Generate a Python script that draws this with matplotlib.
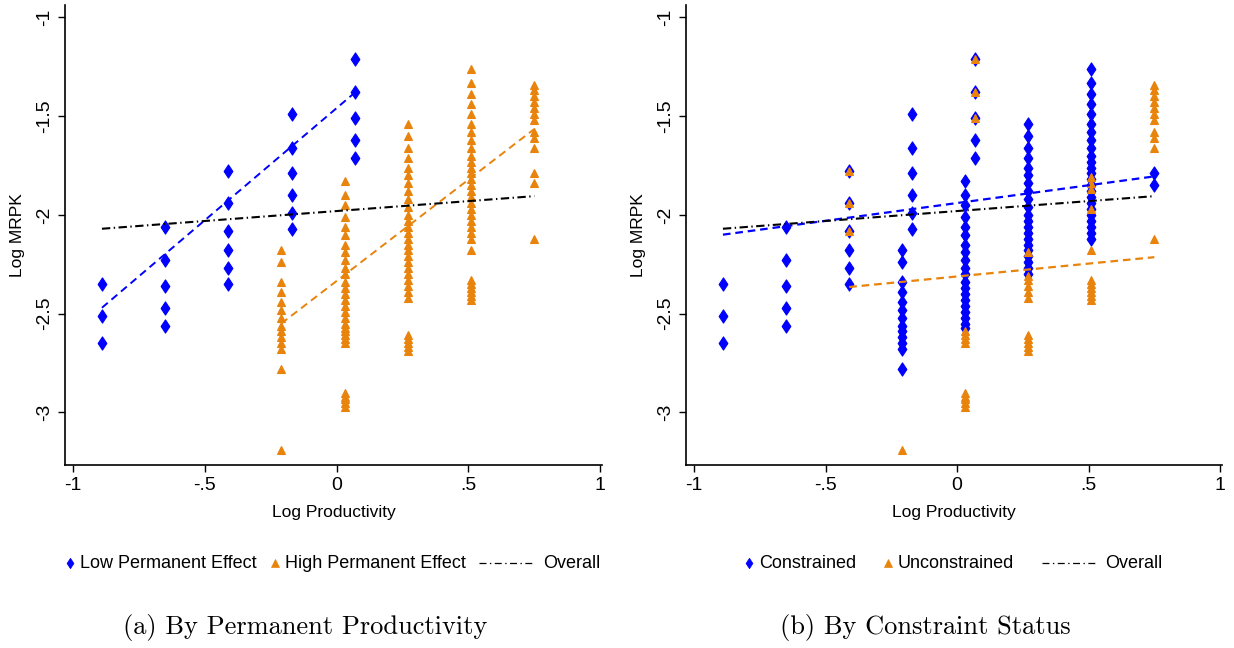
import numpy as np
import matplotlib
matplotlib.use('Agg')
import matplotlib.pyplot as plt
from matplotlib.lines import Line2D
from matplotlib.path import Path
from matplotlib.offsetbox import DrawingArea, TextArea, HPacker, AnchoredOffsetbox

plt.rcParams['font.family'] = ['Liberation Sans Narrow', 'Liberation Sans', 'DejaVu Sans']
plt.rcParams['lines.scale_dashes'] = False

BLUE = '#0000FF'
ORANGE = '#E8830C'

# ---- panel (a): by permanent productivity ----
low_x = [-0.89, -0.65, -0.41, -0.17, 0.07]
low_y = [
    [-2.35, -2.51, -2.65],
    [-2.06, -2.23, -2.36, -2.47, -2.56],
    [-1.78, -1.94, -2.08, -2.18, -2.27, -2.35],
    [-1.49, -1.66, -1.79, -1.90, -1.99, -2.07],
    [-1.21, -1.38, -1.51, -1.62, -1.71],
]
high_x = [-0.21, 0.03, 0.27, 0.51, 0.75]
high_y = [
    [-2.18, -2.24, -2.34, -2.39, -2.44, -2.48, -2.52, -2.56, -2.59, -2.62,
     -2.65, -2.68, -2.78, -3.19],
    [-1.83, -1.90, -1.95, -2.01, -2.06, -2.10, -2.15, -2.19, -2.23, -2.27,
     -2.30, -2.34, -2.37, -2.40, -2.43, -2.46, -2.49, -2.52, -2.55, -2.57,
     -2.59, -2.61, -2.63, -2.65, -2.90, -2.92, -2.93, -2.95, -2.97],
    [-1.54, -1.60, -1.66, -1.71, -1.76, -1.80, -1.84, -1.88, -1.92, -1.96,
     -2.00, -2.03, -2.06, -2.09, -2.12, -2.15, -2.18, -2.21, -2.24, -2.27,
     -2.30, -2.33, -2.36, -2.39, -2.42, -2.61, -2.63, -2.65, -2.67, -2.69],
    [-1.26, -1.33, -1.39, -1.44, -1.49, -1.54, -1.58, -1.62, -1.66, -1.70,
     -1.73, -1.76, -1.79, -1.82, -1.85, -1.88, -1.91, -1.94, -1.97, -2.00,
     -2.03, -2.06, -2.09, -2.12, -2.18, -2.33, -2.35, -2.37, -2.39, -2.41, -2.43],
    [-1.34, -1.37, -1.40, -1.43, -1.46, -1.49, -1.52, -1.58, -1.61, -1.66,
     -1.79, -1.84, -2.12],
]

# ---- panel (b): by constraint status ----
con_x = [-0.89, -0.65, -0.41, -0.21, -0.17, 0.03, 0.07, 0.27, 0.51, 0.75]
con_y = [
    [-2.35, -2.51, -2.65],
    [-2.06, -2.23, -2.36, -2.47, -2.56],
    [-1.78, -1.94, -2.08, -2.18, -2.27, -2.35],
    [-2.18, -2.24, -2.34, -2.39, -2.44, -2.48, -2.52, -2.56, -2.59, -2.62,
     -2.65, -2.68, -2.78],
    [-1.49, -1.66, -1.79, -1.90, -1.99, -2.07],
    [-1.83, -1.90, -1.95, -2.01, -2.06, -2.10, -2.15, -2.19, -2.23, -2.27,
     -2.30, -2.34, -2.37, -2.40, -2.43, -2.46, -2.49, -2.52, -2.55, -2.57],
    [-1.21, -1.38, -1.51, -1.62, -1.71],
    [-1.54, -1.60, -1.66, -1.71, -1.76, -1.80, -1.84, -1.88, -1.92, -1.96,
     -2.00, -2.03, -2.06, -2.09, -2.12, -2.15, -2.18, -2.21, -2.24, -2.27, -2.30],
    [-1.26, -1.33, -1.39, -1.44, -1.49, -1.54, -1.58, -1.62, -1.66, -1.70,
     -1.73, -1.76, -1.79, -1.82, -1.85, -1.88, -1.91, -1.94, -1.97, -2.00,
     -2.03, -2.06, -2.09, -2.12],
    [-1.79, -1.85],
]
uncon_x = [-0.41, -0.21, 0.03, 0.07, 0.27, 0.51, 0.75]
uncon_y = [
    [-1.78, -1.94, -2.08],
    [-3.19],
    [-2.59, -2.61, -2.63, -2.65, -2.90, -2.92, -2.93, -2.95, -2.97],
    [-1.21, -1.38, -1.51],
    [-2.19, -2.31, -2.33, -2.36, -2.39, -2.42, -2.61, -2.63, -2.65, -2.67, -2.69],
    [-1.81, -1.84, -1.87, -1.97, -2.18, -2.33, -2.35, -2.37, -2.39, -2.41, -2.43],
    [-1.34, -1.37, -1.40, -1.43, -1.46, -1.49, -1.52, -1.58, -1.61, -1.66, -2.12],
]

# fitted lines (endpoints)
fit_low_x, fit_low_y = [-0.89, 0.07], [-2.47, -1.38]
fit_high_x, fit_high_y = [-0.21, 0.75], [-2.55, -1.565]
fit_all_x, fit_all_y = [-0.89, 0.75], [-2.07, -1.905]
fit_con_x, fit_con_y = [-0.89, 0.75], [-2.10, -1.805]
fit_uncon_x, fit_uncon_y = [-0.41, 0.75], [-2.365, -2.214]

xticks = [-1, -0.5, 0, 0.5, 1]
xtick_labels = ['-1', '-.5', '0', '.5', '1']
yticks = [-1, -1.5, -2, -2.5, -3]
ytick_labels = ['-1', '-1.5', '-2', '-2.5', '-3']

DASH = (0, (5.5, 3.5))
DASHDOT = (0, (6, 2.5, 1, 2.5))
# Stata-like diamond, a bit taller than wide
DIAMOND = Path([(0, 1), (0.66, 0), (0, -1), (-0.66, 0), (0, 1)],
               [Path.MOVETO, Path.LINETO, Path.LINETO, Path.LINETO, Path.CLOSEPOLY])


def scatter_cols(ax, xs, ys, marker, color, ms):
    for x, col in zip(xs, ys):
        ax.plot(np.full(len(col), x), col, linestyle='none', marker=marker,
                color=color, markersize=ms, markeredgewidth=0.8)


def style_axes(ax):
    ax.set_xlim(-1.03, 1.006)
    ax.set_ylim(-3.266, -0.937)
    ax.spines['top'].set_visible(False)
    ax.spines['right'].set_visible(False)
    ax.spines['left'].set_linewidth(1.2)
    ax.spines['bottom'].set_linewidth(1.2)
    ax.set_xticks(xticks)
    ax.set_xticklabels(xtick_labels, fontsize=14)
    ax.set_yticks(yticks)
    ax.set_yticklabels(ytick_labels, fontsize=14, rotation=90, va='center')
    ax.tick_params(length=5, width=1)
    ax.set_xlabel('Log Productivity', fontsize=12.5, labelpad=8)
    ax.set_ylabel('Log MRPK', fontsize=12.5, labelpad=8)


def marker_item(marker, color, ms, label):
    da = DrawingArea(6, 10, 0, 0)
    da.add_artist(Line2D([3], [5], linestyle='none', marker=marker, color=color,
                         markersize=ms, markeredgewidth=0.5))
    txt = TextArea(label, textprops=dict(fontsize=13))
    return HPacker(children=[da, txt], align='center', pad=0, sep=4)


def line_item(label):
    da = DrawingArea(40, 10, 0, 0)
    da.add_artist(Line2D([0, 40], [5, 5], color='black', lw=0.9,
                         linestyle=(0, (5, 2.5, 1, 2.5))))
    txt = TextArea(label, textprops=dict(fontsize=13))
    return HPacker(children=[da, txt], align='center', pad=0, sep=6)


def add_legend(ax, lab1, lab2, gap):
    items = [marker_item(DIAMOND, BLUE, 7.5, lab1),
             marker_item('^', ORANGE, 5.5, lab2),
             line_item('Overall')]
    box = HPacker(children=items, align='center', pad=0, sep=gap)
    anch = AnchoredOffsetbox(loc='center', child=box, pad=0, borderpad=0,
                             bbox_to_anchor=(0.5, -0.213), bbox_transform=ax.transAxes,
                             frameon=False)
    ax.add_artist(anch)


fig = plt.figure(figsize=(12.34, 6.48), dpi=100)
ax1 = fig.add_axes([0.0527, 0.2824, 0.435, 0.71])
ax2 = fig.add_axes([0.556, 0.2824, 0.434, 0.71])

# panel (a)
scatter_cols(ax1, high_x, high_y, '^', ORANGE, 6)
scatter_cols(ax1, low_x, low_y, DIAMOND, BLUE, 9.5)
ax1.plot(fit_low_x, fit_low_y, color=BLUE, lw=1.4, linestyle=DASH)
ax1.plot(fit_high_x, fit_high_y, color=ORANGE, lw=1.4, linestyle=DASH)
ax1.plot(fit_all_x, fit_all_y, color='black', lw=1.5, linestyle=DASHDOT)
style_axes(ax1)

# panel (b)
scatter_cols(ax2, con_x, con_y, DIAMOND, BLUE, 9.5)
scatter_cols(ax2, uncon_x, uncon_y, '^', ORANGE, 6)
ax2.plot(fit_con_x, fit_con_y, color=BLUE, lw=1.6, linestyle=DASH)
ax2.plot(fit_uncon_x, fit_uncon_y, color=ORANGE, lw=1.6, linestyle=DASH)
ax2.plot(fit_all_x, fit_all_y, color='black', lw=1.5, linestyle=DASHDOT)
style_axes(ax2)

add_legend(ax1, 'Low Permanent Effect', 'High Permanent Effect', 10)
add_legend(ax2, 'Constrained', 'Unconstrained', 20)

fig.text(0.247, 0.032, '(a) By Permanent Productivity', family='cmr10',
         fontsize=19, ha='center', va='center')
fig.text(0.75, 0.032, '(b) By Constraint Status', family='cmr10',
         fontsize=19, ha='center', va='center')

fig.savefig('out.png', dpi=100)
